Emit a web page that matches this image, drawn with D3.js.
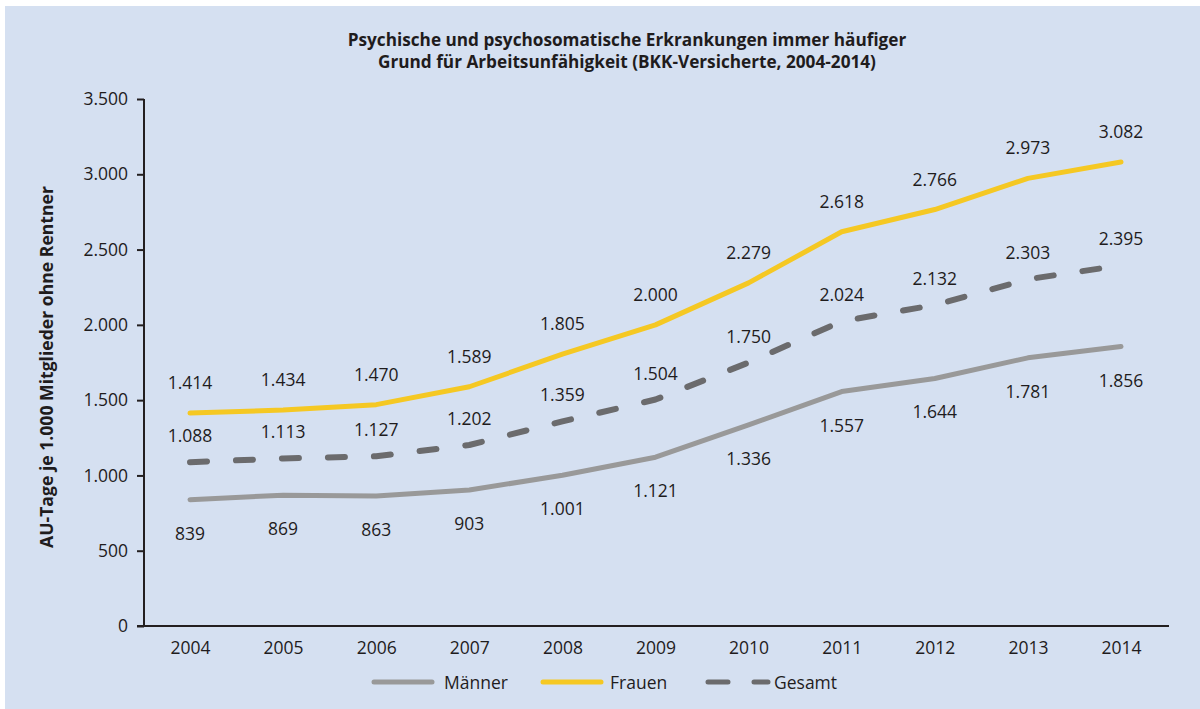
<!DOCTYPE html>
<html>
<head>
<meta charset="utf-8">
<script src="https://cdn.jsdelivr.net/npm/d3@7"></script>
<style>
  body { margin: 0; background: #fff; }
  text { font-family: "Open Sans", "Noto Sans", sans-serif; fill: #1f1c1d; }
</style>
</head>
<body>
<div id="chart"></div>
<script>
// data
var years = ["2004","2005","2006","2007","2008","2009","2010","2011","2012","2013","2014"];
var maenner = [839, 869, 863, 903, 1001, 1121, 1336, 1557, 1644, 1781, 1856];
var frauen = [1414, 1434, 1470, 1589, 1805, 2000, 2279, 2618, 2766, 2973, 3082];
var gesamt = [1088, 1113, 1127, 1202, 1359, 1504, 1750, 2024, 2132, 2303, 2395];
var yTicks = [0, 500, 1000, 1500, 2000, 2500, 3000, 3500];
var titleLines = ["Psychische und psychosomatische Erkrankungen immer häufiger",
                  "Grund für Arbeitsunfähigkeit (BKK-Versicherte, 2004-2014)"];
var yTitle = "AU-Tage je 1.000 Mitglieder ohne Rentner";

var W = 1200, H = 709;
var fmt = function(v) { return d3.format(",")(v).replace(/,/g, "."); };

var svg = d3.select("#chart").append("svg")
  .attr("width", W).attr("height", H);

svg.append("rect")
  .attr("x", 5).attr("y", 6).attr("width", W - 5).attr("height", H - 6)
  .attr("fill", "#d5e0f1");

// title
svg.append("g").selectAll("text")
  .data(titleLines)
  .enter().append("text")
    .attr("x", 627)
    .attr("y", function(d, i) { return 46 + i * 22; })
    .attr("text-anchor", "middle")
    .style("font-size", "17.2px")
    .style("font-weight", "bold")
    .text(function(d) { return d; });

var x = d3.scalePoint().domain(years).range([190, 1121]);
var y = d3.scaleLinear().domain([0, 3500]).range([626, 99]);

// y axis
var yAxis = svg.append("g")
  .attr("transform", "translate(144,0)")
  .call(d3.axisLeft(y).tickValues(yTicks).tickSize(7).tickPadding(9).tickFormat(fmt));
yAxis.select(".domain").attr("stroke", "#231f20").attr("stroke-width", 2).attr("d", "M0,99V626");
yAxis.selectAll(".tick line").attr("stroke", "#231f20").attr("stroke-width", 2);
yAxis.selectAll(".tick text").style("font-size", "17.5px").attr("fill", "#1f1c1d")
  .style("font-family", "'Open Sans', sans-serif");

// x axis
var xAxis = svg.append("g")
  .attr("transform", "translate(0,626)")
  .call(d3.axisBottom(x).tickSize(0).tickPadding(16));
xAxis.select(".domain").attr("stroke", "#231f20").attr("stroke-width", 2).attr("d", "M137,0H1169");
xAxis.selectAll(".tick text").style("font-size", "17.5px").attr("fill", "#1f1c1d")
  .style("font-family", "'Open Sans', sans-serif");

// y title
svg.append("text")
  .attr("transform", "translate(53,367) rotate(-90)")
  .attr("text-anchor", "middle")
  .style("font-size", "17.6px")
  .style("font-weight", "bold")
  .text(yTitle);

var line = d3.line()
  .x(function(d, i) { return x(years[i]); })
  .y(function(d) { return y(d); });

var series = [
  { name: "Männer", values: maenner, color: "#999999", dash: null, dy: 40 },
  { name: "Frauen", values: frauen, color: "#f5c823", dash: null, dy: -24 },
  { name: "Gesamt", values: gesamt, color: "#6b6b6d", dash: "17,29", dy: -20 }
];

series.forEach(function(s) {
  svg.append("path")
    .datum(s.values)
    .attr("d", line)
    .attr("fill", "none")
    .attr("stroke", s.color)
    .attr("stroke-width", s.dash ? 6 : 5)
    .attr("stroke-linecap", "round")
    .attr("stroke-linejoin", "round")
    .attr("stroke-dasharray", s.dash);

  svg.append("g").selectAll("text")
    .data(s.values)
    .enter().append("text")
      .attr("x", function(d, i) { return x(years[i]); })
      .attr("y", function(d) { return y(d) + s.dy; })
      .attr("text-anchor", "middle")
      .style("font-size", "17.5px")
      .text(fmt);
});

// legend
var legendItems = [
  { name: "Männer", color: "#999999", dash: null, x1: 374, x2: 432, tx: 444 },
  { name: "Frauen", color: "#f5c823", dash: null, x1: 543, x2: 601, tx: 610 },
  { name: "Gesamt", color: "#6b6b6d", dash: "20,26", x1: 708, x2: 768, tx: 774 }
];
var leg = svg.append("g").selectAll("g")
  .data(legendItems)
  .enter().append("g");
leg.append("line")
  .attr("x1", function(d) { return d.x1; })
  .attr("x2", function(d) { return d.x2; })
  .attr("y1", 682).attr("y2", 682)
  .attr("stroke", function(d) { return d.color; })
  .attr("stroke-width", 5)
  .attr("stroke-linecap", "round")
  .attr("stroke-dasharray", function(d) { return d.dash; });
leg.append("text")
  .attr("x", function(d) { return d.tx; })
  .attr("y", 689)
  .style("font-size", "17.5px")
  .text(function(d) { return d.name; });
</script>
</body>
</html>
